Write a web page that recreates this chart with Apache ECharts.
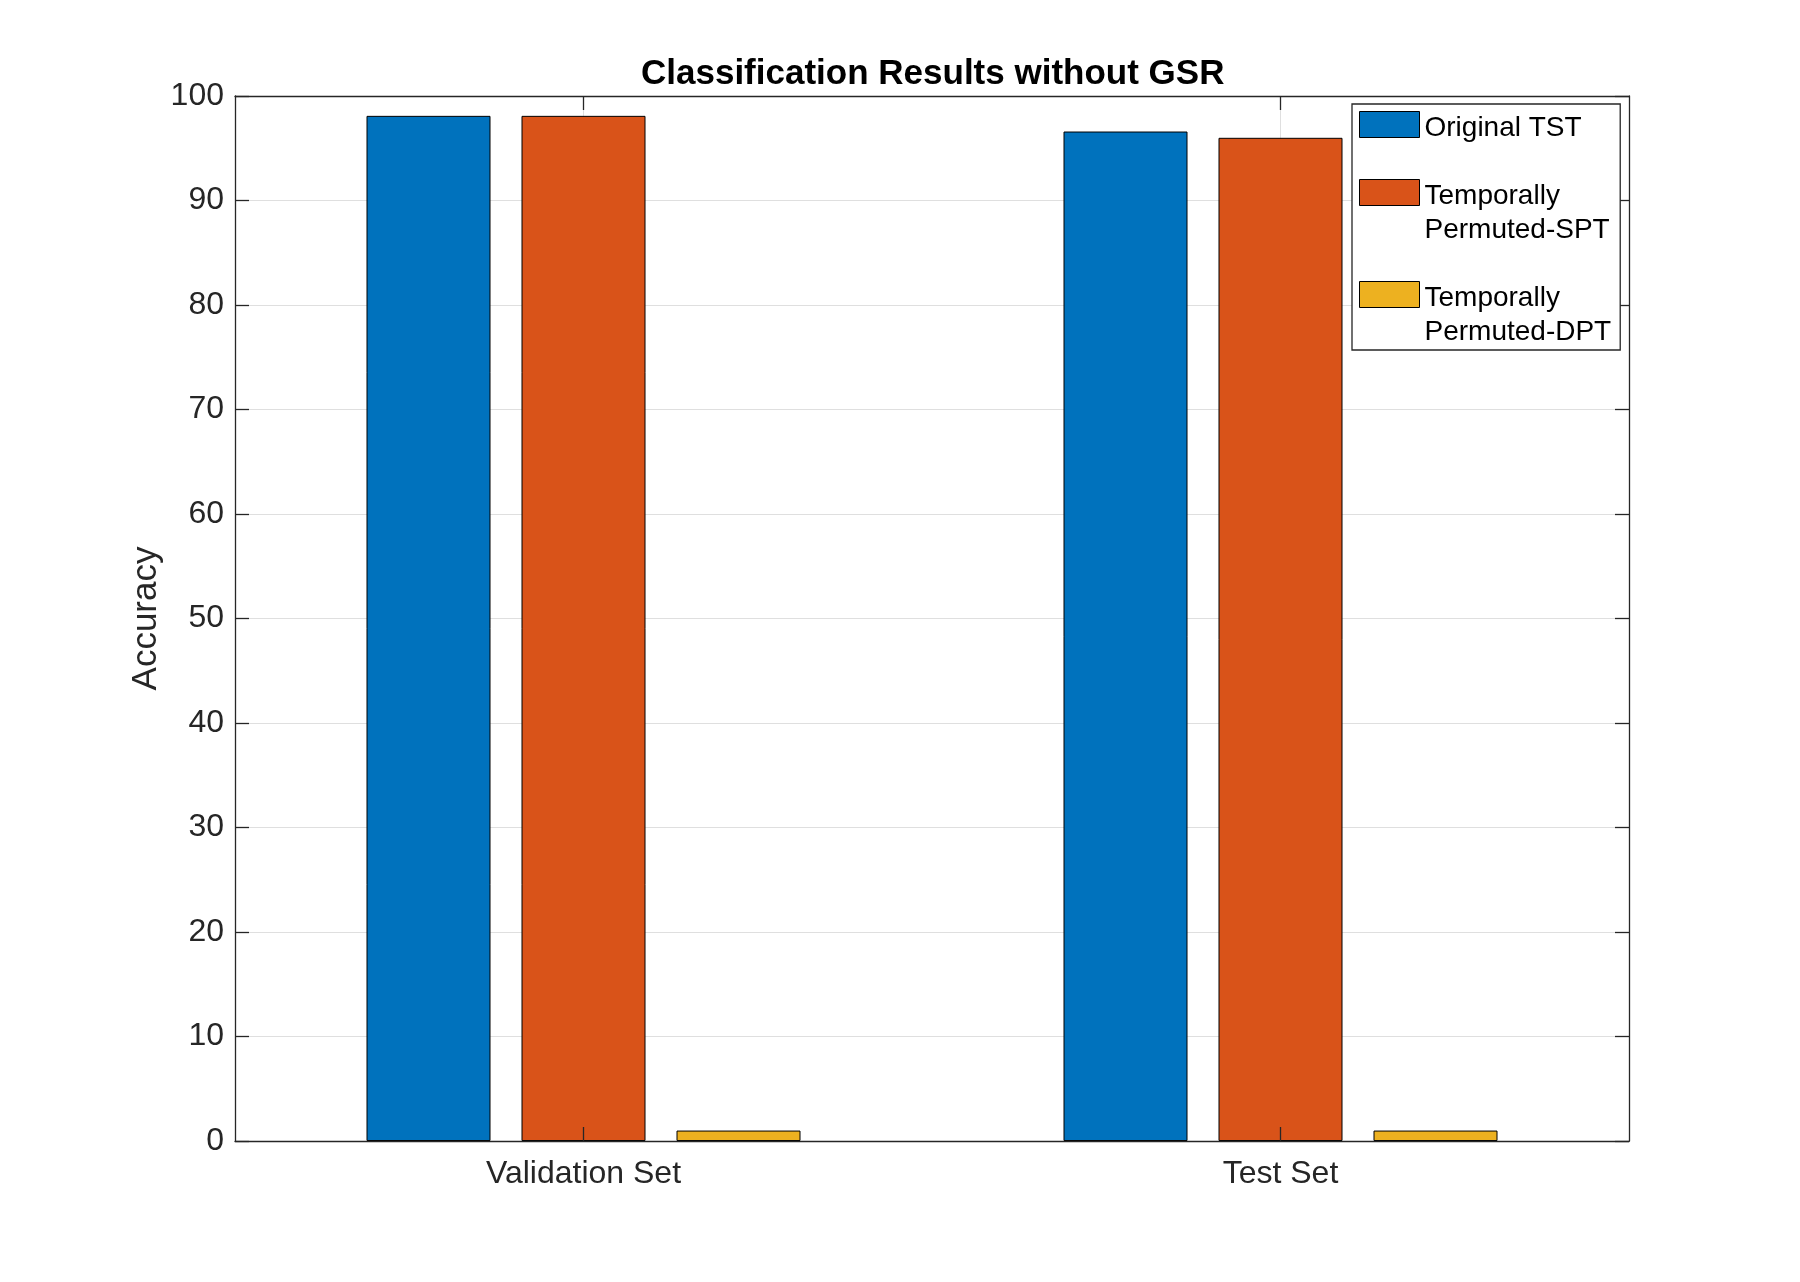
<!DOCTYPE html>
<html>
<head>
<meta charset="utf-8">
<script src="https://cdn.jsdelivr.net/npm/echarts@6/dist/echarts.min.js"></script>
<style>
  html, body { margin: 0; padding: 0; background: #ffffff; }
  #chart { width: 1800px; height: 1282px; }
</style>
</head>
<body>
<div id="chart"></div>
<script>
// ---- data ----
const categories = ['Validation Set', 'Test Set'];
const seriesNames = ['Original TST', 'Temporally Permuted-SPT', 'Temporally Permuted-DPT'];
const legendLabels = ['Original TST', '\nTemporally\nPermuted-SPT', '\nTemporally\nPermuted-DPT'];
const originalTST = [98.1, 96.6];
const permutedSPT = [98.1, 96.0];
const permutedDPT = [1.0, 1.0];
const yTicks = [0, 10, 20, 30, 40, 50, 60, 70, 80, 90, 100];

const FONT = "'Liberation Sans', Arial, Helvetica, sans-serif";
const AX = '#262626';
const GRID = '#dfdfdf';
const colors = ['#0072BD', '#D95319', '#EDB120'];
const values = [originalTST, permutedSPT, permutedDPT];

const chart = echarts.init(document.getElementById('chart'), null, { renderer: 'canvas' });

const option = {
  backgroundColor: '#ffffff',
  animation: false,
  textStyle: { fontFamily: FONT },
  title: {
    text: 'Classification Results without GSR',
    left: 641,
    top: 57,
    padding: 0,
    textStyle: { fontFamily: FONT, fontSize: 35, fontWeight: 'bold', color: '#000000' }
  },
  grid: { left: 235, right: 171, top: 96, bottom: 141, containLabel: false },
  legend: {
    orient: 'vertical',
    left: 1352,
    top: 104,
    padding: [7, 9, 1, 7],
    itemGap: 0,
    itemWidth: 60,
    itemHeight: 33,
    // swatch occupies the upper 26px of a 33px slot so the text sits slightly lower, like MATLAB
    icon: 'path://M0,0H60V26H0ZM0,33',
    symbolKeepAspect: false,
    backgroundColor: '#ffffff',
    borderColor: AX,
    borderWidth: 1.3,
    borderRadius: 0,
    data: seriesNames,
    formatter: function (name) { return legendLabels[seriesNames.indexOf(name)]; },
    textStyle: { fontFamily: FONT, fontSize: 28, lineHeight: 34, color: '#000000' },
    itemStyle: { borderColor: '#000000', borderWidth: 1 }
  },
  xAxis: [
    {
      type: 'category',
      data: categories,
      position: 'bottom',
      z: 5,
      axisLine: { show: true, onZero: false, lineStyle: { color: AX, width: 1.3 } },
      axisTick: { show: true, inside: true, length: 14, alignWithLabel: true, lineStyle: { color: AX, width: 1.3 } },
      axisLabel: { fontFamily: FONT, fontSize: 32, color: AX, margin: 17 },
      splitLine: { show: false }
    },
    {
      type: 'category',
      data: categories,
      position: 'top',
      z: 0,
      axisLine: { show: true, onZero: false, lineStyle: { color: AX, width: 1.3 } },
      axisTick: { show: true, inside: true, length: 14, alignWithLabel: true, lineStyle: { color: AX, width: 1.3 } },
      axisLabel: { show: false },
      splitLine: { show: true, alignWithLabel: true, lineStyle: { color: GRID, width: 1 } }
    }
  ],
  yAxis: [
    {
      type: 'value',
      min: 0,
      max: 100,
      interval: 10,
      position: 'left',
      name: 'Accuracy',
      nameLocation: 'middle',
      nameGap: 71,
      nameMoveOverlap: false,
      nameTextStyle: { fontFamily: FONT, fontSize: 35, color: AX },
      axisLine: { show: true, onZero: false, lineStyle: { color: AX, width: 1.3 } },
      axisTick: { show: true, inside: true, length: 14, lineStyle: { color: AX, width: 1.3 } },
      axisLabel: {
        fontFamily: FONT, fontSize: 32, color: AX, margin: 11, padding: [4, 0, 0, 0],
        formatter: function (v) { return yTicks.indexOf(v) >= 0 ? String(v) : ''; }
      },
      splitLine: { show: true, lineStyle: { color: GRID, width: 1 } }
    },
    {
      type: 'value',
      min: 0,
      max: 100,
      interval: 10,
      position: 'right',
      axisLine: { show: true, onZero: false, lineStyle: { color: AX, width: 1.3 } },
      axisTick: { show: true, inside: true, length: 14, lineStyle: { color: AX, width: 1.3 } },
      axisLabel: { show: false },
      splitLine: { show: false }
    }
  ],
  series: seriesNames.map(function (name, i) {
    return {
      name: name,
      type: 'bar',
      xAxisIndex: 0,
      yAxisIndex: 0,
      data: values[i],
      barWidth: 124,
      barGap: '25%',
      z: 2,
      itemStyle: { color: colors[i], borderColor: '#000000', borderWidth: 1 },
      emphasis: { disabled: true }
    };
  })
};

chart.setOption(option);
</script>
</body>
</html>
